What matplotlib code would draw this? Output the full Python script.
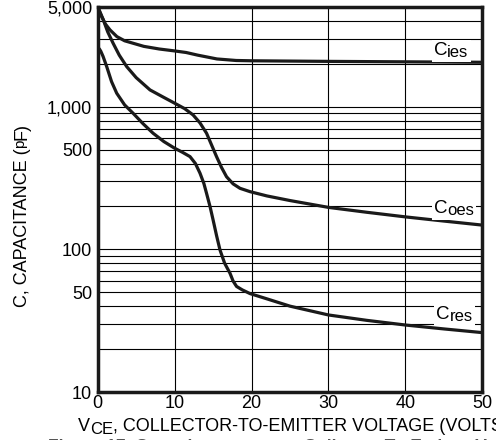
import matplotlib
matplotlib.use("Agg")
import matplotlib.pyplot as plt
import matplotlib.transforms as mtransforms
import matplotlib.patches as mpatches
import numpy as np

params = {
    "font.family": ["Liberation Sans", "DejaVu Sans"],
    "font.size": 12,
}
matplotlib.rcParams.update(params)

## Curve data (V_CE in volts, C in pF)
cies_v = [0.05, 0.5, 1.0, 1.6, 2.5, 3.5, 4.6, 6, 8, 10, 11.5, 13, 15.5, 18, 20, 25, 30, 40, 50]
cies_c = [4900, 4300, 3800, 3455, 3100, 2900, 2787, 2650, 2540, 2462, 2400, 2300, 2163, 2110, 2100, 2090, 2080, 2065, 2050]

coes_v = [0.1, 0.73, 1.3, 2.0, 2.8, 3.77, 5, 6.8, 8.5, 10, 11.3, 12.4, 13.3, 14.15, 14.8, 15.45,
          16.1, 16.75, 17.6, 18.5, 19.8, 22, 25, 30, 35, 40, 45, 50]
coes_c = [4900, 4063, 3350, 2789, 2300, 1911, 1600, 1312, 1170, 1059, 970, 876, 770, 652, 540, 447,
          375, 323, 288, 268, 254, 237, 220, 197, 182, 169, 158, 148]

cres_v = [0.2, 0.4, 0.7, 1.17, 1.8, 2.47, 3.5, 4.6, 5.9, 7.2, 8.6, 10, 11, 12, 12.7, 13.3, 13.8,
          14.15, 14.6, 15, 15.45, 15.9, 16.5, 17.2, 17.6, 18.05, 18.8, 19.8, 22, 25, 30, 35, 40, 45, 50]
cres_c = [2550, 2450, 2250, 1911, 1500, 1244, 1030, 900, 760, 652, 570, 512, 480, 447, 400, 342, 290,
          247, 200, 161, 125, 99, 80, 68, 60, 55, 52, 49, 45, 40, 34.7, 31.8, 29.5, 27.7, 26.1]

x_ticks = [0, 10, 20, 30, 40, 50]
y_ticks = [10, 50, 100, 500, 1000, 5000]
y_tick_labels = ["10", "50", "100", "500", "1,000", "5,000"]
y_grid = [20, 30, 40, 50, 60, 70, 80, 90, 100, 200, 300, 400, 500, 600, 700, 800, 900, 1000,
          2000, 3000, 4000]

curve_names = ["ies", "oes", "res"]
label_pos = [(43.7, 2307), (43.7, 180), (44.0, 32.5)]

fig = plt.figure(figsize=(4.96, 4.40), dpi=100)
ax = fig.add_axes([0.197, 0.109, 0.7754, 0.875])
renderer = fig.canvas.get_renderer()


## place a run of text pieces one after another, each (text, drop in px, size)
def rich_text(x, y, pieces, trans, rotation=0, background=False, zorder=4, tighten=0.0, **kw):
	offset = 0
	extents = []
	for s, drop, size in pieces:
		if rotation == 0:
			tr = mtransforms.offset_copy(trans, fig=fig, x=offset, y=-drop, units="dots")
		else:
			tr = mtransforms.offset_copy(trans, fig=fig, x=drop, y=offset, units="dots")
		t = fig.text(x, y, s, transform=tr, rotation=rotation, rotation_mode="anchor",
		             ha="left", va="baseline", fontsize=size, zorder=zorder + 1, **kw)
		ext = t.get_window_extent(renderer)
		extents.append(ext)
		offset += (ext.width if rotation == 0 else ext.height) - tighten
	if background:
		## white patch behind the label so the grid line is broken around it
		bb = mtransforms.Bbox.union(extents)
		pad = 2
		rect = mpatches.Rectangle((bb.x0 - pad, bb.y0 - pad), bb.width + 2 * pad, bb.height + 2 * pad,
		                          transform=mtransforms.IdentityTransform(), facecolor="white",
		                          edgecolor="none", zorder=zorder)
		fig.add_artist(rect)


ax.set_yscale("log")
ax.set_xlim(0, 50)
ax.set_ylim(10, 5000)

## grid
for g in y_grid:
	ax.axhline(g, color="black", lw=0.8, zorder=1)
for g in x_ticks[1:-1]:
	ax.axvline(g, color="black", lw=0.8, zorder=1)

ax.plot(cies_v, cies_c, color="#1a1a1a", lw=2.3, zorder=3, solid_capstyle="round")
ax.plot(coes_v, coes_c, color="#1a1a1a", lw=2.3, zorder=3, solid_capstyle="round")
ax.plot(cres_v, cres_c, color="#1a1a1a", lw=2.3, zorder=3, solid_capstyle="round")

for name, (lx, ly) in zip(curve_names, label_pos):
	rich_text(lx, ly, [("C", 0, 13.5), (name, 2, 12)], ax.transData, background=True, zorder=4)

ax.set_xticks(x_ticks)
ax.set_xticklabels([str(t) for t in x_ticks])
ax.set_yticks(y_ticks)
ax.set_yticklabels(y_tick_labels)
ax.yaxis.set_minor_locator(matplotlib.ticker.NullLocator())
ax.tick_params(axis="both", length=0, labelsize=13)
ax.tick_params(axis="y", pad=4)
ax.tick_params(axis="x", pad=2)

for s in ax.spines.values():
	s.set_linewidth(2.5)
	s.set_color("#1a1a1a")

## axis titles (subscripts drawn as separate pieces, as in the datasheet)
rich_text(78, 9, [("V", 0, 13), ("CE", 3, 12), (", COLLECTOR-TO-EMITTER VOLTAGE (VOLTS)", 0, 13)],
          mtransforms.IdentityTransform())
rich_text(27, 133, [("C, CAPACITANCE (", 0, 13), ("p", -3, 11), ("F)", 0, 13)],
          mtransforms.IdentityTransform(), rotation=90)

fig.text(0.097, 0.0025, "Figure 17. Capacitance versus Collector-To-Emitter Voltage",
         fontsize=12.5, fontweight="bold", color="#555555", va="top", ha="left")

fig.savefig("out.png", dpi=100)
